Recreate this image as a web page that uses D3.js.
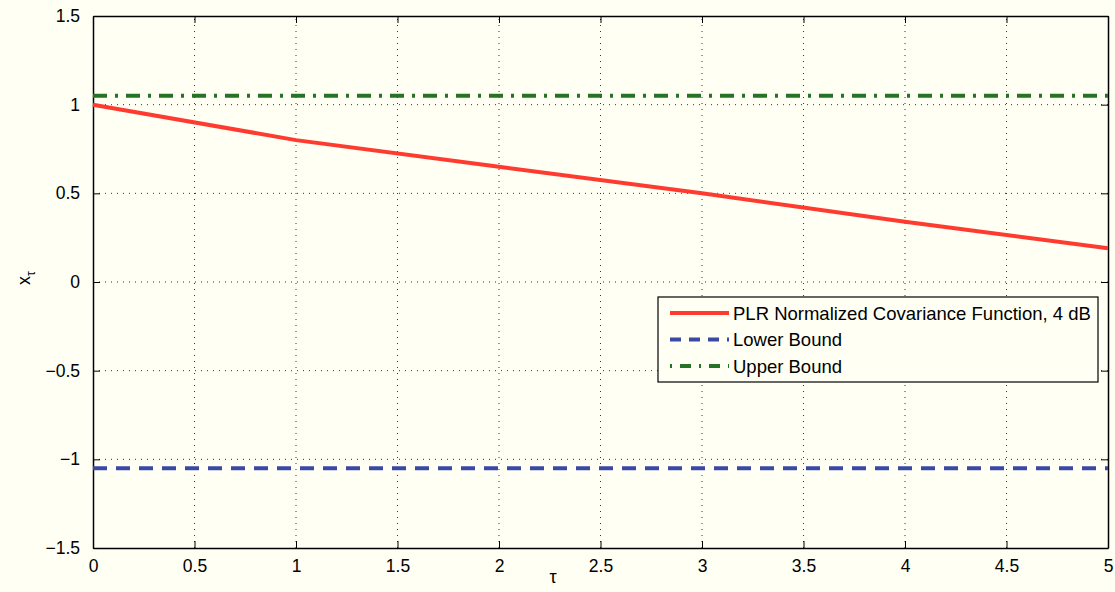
<!DOCTYPE html>
<html>
<head>
<meta charset="utf-8">
<script src="https://cdn.jsdelivr.net/npm/d3@7"></script>
<style>
	body { margin: 0; background: #fffff4; }
	svg { display: block; font-family: "Liberation Sans", Arial, sans-serif; }
</style>
</head>
<body>
<svg id="chart" width="1115" height="592"></svg>
<script>
var tau = [0, 1, 2, 3, 4, 5];
var covariance = [1, 0.8, 0.65, 0.5, 0.34, 0.19];
var lowerBound = [-1.05, -1.05];
var upperBound = [1.05, 1.05];
var boundTau = [0, 5];
var xTicks = [0, 0.5, 1, 1.5, 2, 2.5, 3, 3.5, 4, 4.5, 5];
var yTicks = [-1.5, -1, -0.5, 0, 0.5, 1, 1.5];
var legendLabels = ["PLR Normalized Covariance Function, 4 dB", "Lower Bound", "Upper Bound"];

var W = 1115, H = 592;
var m = { left: 93, right: 7, top: 16, bottom: 44 };
var svg = d3.select('#chart');

svg.append('rect').attr('width', W).attr('height', H).attr('fill', '#fffff4');

var x = d3.scaleLinear().domain([0, 5]).range([m.left, W - m.right]);
var y = d3.scaleLinear().domain([-1.5, 1.5]).range([H - m.bottom, m.top]);

// grid
svg.append('g').selectAll('line')
	.data(xTicks.slice(1, -1))
	.enter().append('line')
	.attr('x1', d => x(d)).attr('x2', d => x(d))
	.attr('y1', y(-1.5)).attr('y2', y(1.5))
	.attr('stroke', '#333').attr('stroke-width', 1).attr('stroke-dasharray', '1,5');
svg.append('g').selectAll('line')
	.data(yTicks.slice(1, -1))
	.enter().append('line')
	.attr('x1', x(0)).attr('x2', x(5))
	.attr('y1', d => y(d)).attr('y2', d => y(d))
	.attr('stroke', '#333').attr('stroke-width', 1).attr('stroke-dasharray', '1,5');

// axes (inward ticks, matlab box)
var fmt = d => d < 0 ? '\u2212' + Math.abs(d) : String(d);
var xb = svg.append('g').attr('transform', 'translate(0,' + y(-1.5) + ')')
	.call(d3.axisBottom(x).tickValues(xTicks).tickSizeInner(-7).tickSizeOuter(0).tickPadding(12).tickFormat(fmt));
var xt = svg.append('g').attr('transform', 'translate(0,' + y(1.5) + ')')
	.call(d3.axisTop(x).tickValues(xTicks).tickSizeInner(-7).tickSizeOuter(0).tickFormat(''));
var yl = svg.append('g').attr('transform', 'translate(' + x(0) + ',0)')
	.call(d3.axisLeft(y).tickValues(yTicks).tickSizeInner(-7).tickSizeOuter(0).tickPadding(13).tickFormat(fmt));
var yr = svg.append('g').attr('transform', 'translate(' + x(5) + ',0)')
	.call(d3.axisRight(y).tickValues(yTicks).tickSizeInner(-7).tickSizeOuter(0).tickFormat(''));
[xb, xt, yl, yr].forEach(function (g) {
	g.selectAll('path').attr('stroke', '#000').attr('stroke-width', 1.5);
	g.selectAll('line').attr('stroke', '#000');
	g.selectAll('text').attr('fill', '#000').style('font-size', '17.5px');
});

// lines
var line = d3.line().x(d => x(d[0])).y(d => y(d[1]));
svg.append('path')
	.datum(d3.zip(boundTau, upperBound))
	.attr('d', line).attr('fill', 'none')
	.attr('stroke', '#267326').attr('stroke-width', 4).attr('stroke-dasharray', '14,8,3,8');
svg.append('path')
	.datum(d3.zip(boundTau, lowerBound))
	.attr('d', line).attr('fill', 'none')
	.attr('stroke', '#3a48a6').attr('stroke-width', 4).attr('stroke-dasharray', '14,9');
svg.append('path')
	.datum(d3.zip(tau, covariance))
	.attr('d', line).attr('fill', 'none')
	.attr('stroke', '#ff3b30').attr('stroke-width', 4);

// axis labels
svg.append('text').attr('x', 553).attr('y', 583).attr('text-anchor', 'middle')
	.style('font-size', '18px').text('\u03c4');
var ylab = svg.append('text').attr('transform', 'translate(30,' + (y(0) - 4) + ') rotate(-90)')
	.attr('text-anchor', 'middle').style('font-size', '18px');
ylab.append('tspan').text('x');
ylab.append('tspan').attr('dy', 5).style('font-size', '12px').text('\u03c4');

// legend
var lg = svg.append('g').attr('transform', 'translate(658,297)');
lg.append('rect').attr('width', 440).attr('height', 85)
	.attr('fill', '#fffff4').attr('stroke', '#000').attr('stroke-width', 1.2);
var legendStyles = [
	{ color: '#ff3b30', dash: null },
	{ color: '#3a48a6', dash: '11,8' },
	{ color: '#267326', dash: '2,8,11,8' }
];
var items = lg.selectAll('g.item').data(legendLabels).enter().append('g')
	.attr('transform', (d, i) => 'translate(0,' + (16 + i * 26.5) + ')');
items.append('line').attr('x1', 12).attr('x2', 71).attr('y1', 0).attr('y2', 0)
	.attr('stroke', (d, i) => legendStyles[i].color).attr('stroke-width', 4)
	.attr('stroke-dasharray', (d, i) => legendStyles[i].dash);
items.append('text').attr('x', 75).attr('y', 6.5).style('font-size', '18.5px').text(d => d);
</script>
</body>
</html>
